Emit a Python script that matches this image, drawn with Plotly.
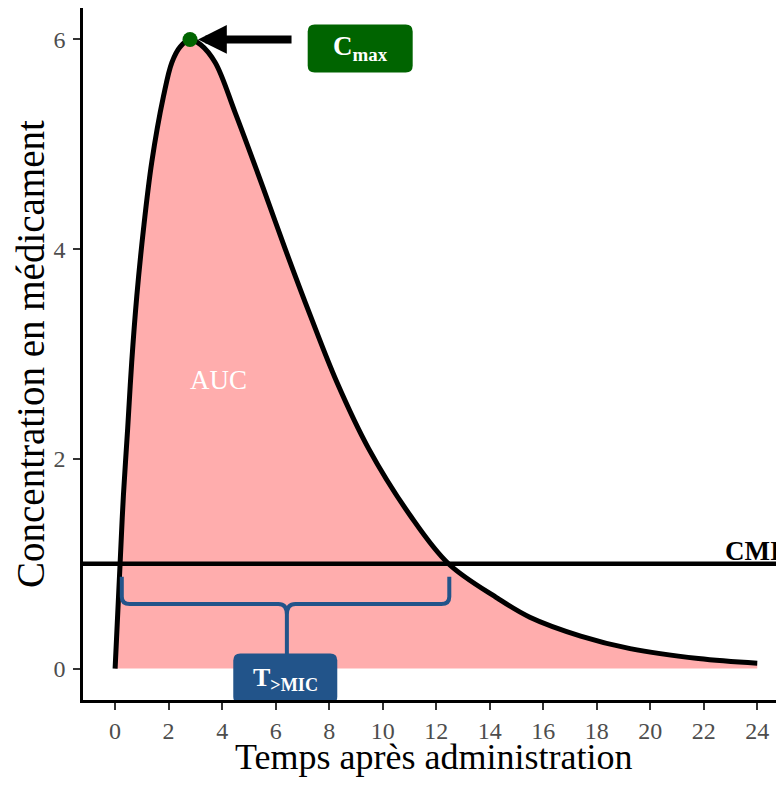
import plotly.graph_objects as go

# ---- data ----
time_h = [0, 0.19, 0.31, 0.47, 0.62, 0.81, 1.06, 1.37, 1.81, 2.12, 2.43, 2.8, 3.2,
          3.74, 4.49, 5.54, 6.36, 7.29, 8.29, 9.47, 11.03, 12.46, 14.3, 15.5, 17.4,
          19.25, 21.8, 24]
conc = [0, 1.02, 1.65, 2.29, 2.92, 3.55, 4.19, 4.83, 5.46, 5.78, 5.93, 6.0, 5.95,
        5.78, 5.30, 4.58, 4.0, 3.37, 2.73, 2.10, 1.46, 1.0, 0.67, 0.49, 0.31,
        0.19, 0.095, 0.05]
cmax_t = 2.8
cmax_c = 6.0
cmi = 1.0
t_above_start = 0.25
t_above_end = 12.49
x_ticks = list(range(0, 25, 2))
y_ticks = [0, 2, 4, 6]

SERIF = "Liberation Serif"
PINK = "#FFADAD"
GREEN = "#006400"
BLUE = "#22548A"

fig = go.Figure()

# AUC fill
fig.add_trace(go.Scatter(x=time_h, y=conc, mode="lines", fill="tozeroy",
                         fillcolor=PINK, line=dict(width=0, shape="spline", smoothing=1.0),
                         hoverinfo="skip", showlegend=False))
# curve
fig.add_trace(go.Scatter(x=time_h, y=conc, mode="lines",
                         line=dict(color="black", width=5, shape="spline", smoothing=1.0),
                         showlegend=False))
# Cmax point
fig.add_trace(go.Scatter(x=[cmax_t], y=[cmax_c], mode="markers",
                         marker=dict(color=GREEN, size=15), showlegend=False))

shapes = []
# CMI line
shapes.append(dict(type="line", xref="paper", x0=0, x1=1, yref="y", y0=cmi, y1=cmi,
                   line=dict(color="black", width=4.5), layer="above"))

# bracket for T>MIC
top = cmi - 0.124
bar = cmi - 0.385
mid = (t_above_start + t_above_end) / 2 + 0.05
stem_bottom = 0.12
path = (f"M{t_above_start},{top} L{t_above_start},{bar+0.07} "
        f"Q{t_above_start},{bar} {t_above_start+0.3},{bar} L{mid-0.32},{bar} "
        f"Q{mid},{bar} {mid},{bar-0.1} L{mid},{stem_bottom} "
        f"M{t_above_end},{top} L{t_above_end},{bar+0.07} "
        f"Q{t_above_end},{bar} {t_above_end-0.3},{bar} L{mid+0.32},{bar} "
        f"Q{mid},{bar} {mid},{bar-0.1}")
shapes.append(dict(type="path", xref="x", yref="y", path=path,
                   line=dict(color=BLUE, width=4), layer="above"))


def rounded_box(xc, yc, w, h, r, color):
    hw, hh = w / 2, h / 2
    p = (f"M{-hw+r},{-hh} L{hw-r},{-hh} Q{hw},{-hh} {hw},{-hh+r} "
         f"L{hw},{hh-r} Q{hw},{hh} {hw-r},{hh} L{-hw+r},{hh} "
         f"Q{-hw},{hh} {-hw},{hh-r} L{-hw},{-hh+r} Q{-hw},{-hh} {-hw+r},{-hh} Z")
    return dict(type="path", xref="x", yref="y", xsizemode="pixel", ysizemode="pixel",
                xanchor=xc, yanchor=yc, path=p, fillcolor=color,
                line=dict(width=0), layer="above")


cmax_lab = (9.16, 5.914)
tmic_lab = (6.36, -0.095)
shapes.append(rounded_box(cmax_lab[0], cmax_lab[1], 105, 48, 7, GREEN))
shapes.append(rounded_box(tmic_lab[0], tmic_lab[1], 104, 50, 7, BLUE))

annotations = [
    # arrow to Cmax
    dict(x=cmax_t, y=cmax_c, ax=6.65, ay=cmax_c, xref="x", yref="y", axref="x", ayref="y",
         text="", showarrow=True, arrowhead=2, arrowwidth=8, arrowsize=0.72,
         arrowcolor="black", standoff=8),
    dict(x=cmax_lab[0], y=cmax_lab[1], xref="x", yref="y", showarrow=False,
         text="<b>C<sub>max</sub></b>", font=dict(family=SERIF, size=27, color="white")),
    dict(x=tmic_lab[0], y=tmic_lab[1], xref="x", yref="y", showarrow=False,
         text="<b>T<sub>>MIC</sub></b>", font=dict(family=SERIF, size=26, color="white")),
    dict(x=3.85, y=2.75, xref="x", yref="y", showarrow=False, text="AUC",
         font=dict(family=SERIF, size=27, color="white")),
    dict(x=1, y=cmi, xref="paper", yref="y", xanchor="right", yanchor="middle", yshift=13,
         xshift=-2, borderpad=0, showarrow=False, text="<b>CMI</b>",
         font=dict(family=SERIF, size=27, color="black")),
    # axis titles
    dict(x=0.5, y=0, xref="paper", yref="paper", yanchor="middle", yshift=-57,
         showarrow=False, text="Temps après administration",
         font=dict(family=SERIF, size=36, color="black")),
    dict(x=0, y=0.5, xref="paper", yref="paper", xanchor="center", xshift=-53,
         textangle=-90, showarrow=False, borderpad=0, text="Concentration en médicament",
         font=dict(family=SERIF, size=39, color="black")),
]

axis_common = dict(showgrid=False, zeroline=False, showline=True, linecolor="black",
                   linewidth=2.5, ticks="outside", ticklen=7, tickwidth=1.5,
                   tickcolor="#333333",
                   tickfont=dict(family=SERIF, size=24, color="#4D4D4D"))

# the page body adds an 8 px offset, so the figure is sized 8 px smaller
fig.update_layout(
    width=776, height=778,
    margin=dict(l=75, r=0, t=0, b=86),
    paper_bgcolor="white", plot_bgcolor="white",
    xaxis=dict(range=[-1.2, 25.0], tickvals=x_ticks, **axis_common),
    yaxis=dict(range=[-0.3, 6.3], tickvals=y_ticks, ticklabelstandoff=3, **axis_common),
    shapes=shapes, annotations=annotations, showlegend=False,
)

fig.write_html("out.html")
